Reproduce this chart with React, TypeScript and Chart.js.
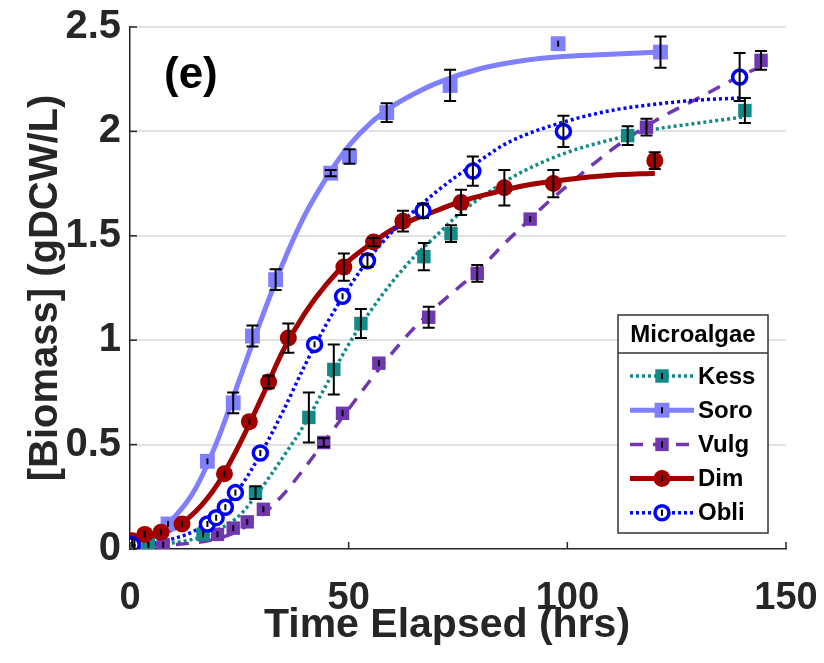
import React, { useEffect, useRef } from 'react';
import { Chart, registerables } from 'chart.js';

Chart.register(...registerables);

const FONT = '"Liberation Sans", Arial, Helvetica, sans-serif';

// ---- tick labels ----
const xTickLabels = ['0', '50', '100', '150'];
const yTickLabels = ['0', '0.5', '1', '1.5', '2', '2.5'];

// ---- measured points (time, biomass, error) ----
const kessT = [1, 4.2, 16.7, 28.7, 40.9, 46.6, 52.8, 67.2, 73.4, 113.8, 140.6];
const kessY = [0.01, 0.02, 0.07, 0.27, 0.63, 0.86, 1.08, 1.40, 1.51, 1.98, 2.10];
const kessErr = [0.005, 0.01, 0.01, 0.03, 0.12, 0.12, 0.07, 0.065, 0.04, 0.045, 0.06];

const soroT = [1, 8.7, 17.7, 23.6, 28.0, 33.3, 45.9, 50.2, 58.7, 73.2, 97.9, 121.3];
const soroY = [0.03, 0.12, 0.42, 0.70, 1.02, 1.29, 1.80, 1.88, 2.09, 2.22, 2.42, 2.38];
const soroErr = [0.005, 0.01, 0.01, 0.05, 0.05, 0.05, 0.015, 0.035, 0.045, 0.075, 0.01, 0.075];

const vulgT = [1, 7.6, 20.0, 23.6, 26.8, 30.5, 44.3, 48.6, 56.9, 68.3, 79.4, 91.5, 118.1, 144.3];
const vulgY = [0.01, 0.02, 0.07, 0.10, 0.13, 0.19, 0.51, 0.65, 0.89, 1.11, 1.32, 1.58, 2.02, 2.34];
const vulgErr = [0.005, 0.01, 0.01, 0.01, 0.01, 0.01, 0.02, 0.01, 0.01, 0.05, 0.04, 0.01, 0.04, 0.045];

const dimT = [0.5, 3.4, 7.1, 11.9, 21.6, 27.3, 31.7, 36.2, 48.9, 55.7, 62.4, 75.7, 85.6, 96.8, 120.0];
const dimY = [0.04, 0.07, 0.08, 0.12, 0.36, 0.61, 0.80, 1.01, 1.35, 1.47, 1.57, 1.66, 1.73, 1.75, 1.86];
const dimErr = [0.005, 0.005, 0.005, 0.01, 0.01, 0.01, 0.03, 0.07, 0.065, 0.02, 0.05, 0.06, 0.085, 0.065, 0.04];

const obliT = [0.5, 17.7, 19.7, 21.8, 24.1, 29.8, 42.2, 48.6, 54.3, 67.0, 78.4, 99.1, 139.4];
const obliY = [0.02, 0.12, 0.15, 0.20, 0.27, 0.46, 0.98, 1.21, 1.38, 1.62, 1.81, 2.00, 2.26];
const obliErr = [0.005, 0.01, 0.01, 0.01, 0.01, 0.01, 0.01, 0.01, 0.03, 0.035, 0.07, 0.075, 0.115];

// ---- fitted curves ----
const kessFitT = [0, 10, 15, 20, 25, 30, 35, 40, 45, 50, 55, 60, 65, 70, 75, 80, 85, 90, 100, 110, 120, 130, 140.6];
const kessFitY = [0.01, 0.03, 0.05, 0.09, 0.16, 0.29, 0.44, 0.60, 0.79, 0.98, 1.14, 1.28, 1.40, 1.50, 1.60, 1.68, 1.75, 1.81, 1.90, 1.96, 2.01, 2.04, 2.07];

const soroFitT = [0, 5, 10, 15, 20, 25, 30, 35, 40, 45, 50, 55, 60, 65, 70, 80, 90, 100, 110, 121.3];
const soroFitY = [0.03, 0.07, 0.15, 0.29, 0.52, 0.81, 1.10, 1.37, 1.60, 1.78, 1.93, 2.04, 2.12, 2.18, 2.23, 2.30, 2.34, 2.36, 2.37, 2.38];

const vulgFitT = [0, 10, 20, 25, 30, 35, 40, 45, 50, 55, 60, 65, 70, 75, 80, 85, 90, 95, 100, 110, 120, 130, 140, 144.3];
const vulgFitY = [0.01, 0.02, 0.05, 0.09, 0.16, 0.26, 0.39, 0.53, 0.67, 0.81, 0.94, 1.06, 1.16, 1.25, 1.34, 1.45, 1.55, 1.65, 1.74, 1.91, 2.05, 2.16, 2.27, 2.31];

const dimFitT = [0, 5, 10, 15, 20, 25, 30, 35, 40, 45, 50, 55, 60, 65, 70, 75, 80, 90, 100, 110, 120];
const dimFitY = [0.04, 0.06, 0.10, 0.18, 0.31, 0.50, 0.72, 0.95, 1.13, 1.27, 1.38, 1.46, 1.53, 1.58, 1.62, 1.66, 1.69, 1.74, 1.77, 1.79, 1.80];

const obliFitT = [0, 10, 15, 20, 25, 30, 35, 40, 45, 50, 55, 60, 65, 70, 75, 80, 85, 90, 100, 110, 120, 130, 139.4];
const obliFitY = [0.01, 0.05, 0.09, 0.17, 0.29, 0.46, 0.66, 0.88, 1.08, 1.25, 1.40, 1.52, 1.62, 1.71, 1.79, 1.86, 1.93, 1.98, 2.05, 2.10, 2.13, 2.15, 2.16];

const legendTitle = 'Microalgae';
const panelLabel = '(e)';
const xTitle = 'Time Elapsed (hrs)';
const yTitle = '[Biomass] (gDCW/L)';

type Style = {
  label: string;
  color: string;
  lineWidth: number;
  dash: number[];
  pointStyle: string;
  radius: number;
  fill: string;
  pointBorder: number;
};

const styles: Style[] = [
  { label: 'Kess', color: '#128a8a', lineWidth: 3.5, dash: [3, 3], pointStyle: 'rect', radius: 9.5, fill: '#128a8a', pointBorder: 0 },
  { label: 'Soro', color: '#8080ff', lineWidth: 5, dash: [], pointStyle: 'rect', radius: 10.5, fill: '#8080ff', pointBorder: 0 },
  { label: 'Vulg', color: '#7038b0', lineWidth: 3.5, dash: [13, 10], pointStyle: 'rect', radius: 9.5, fill: '#7038b0', pointBorder: 0 },
  { label: 'Dim', color: '#a00000', lineWidth: 5, dash: [], pointStyle: 'circle', radius: 8.5, fill: '#a00000', pointBorder: 0 },
  { label: 'Obli', color: '#0000ff', lineWidth: 3.5, dash: [3, 3], pointStyle: 'circle', radius: 7, fill: '#ffffff', pointBorder: 3.5 },
];

const pointSets = [
  { t: kessT, y: kessY, e: kessErr },
  { t: soroT, y: soroY, e: soroErr },
  { t: vulgT, y: vulgY, e: vulgErr },
  { t: dimT, y: dimY, e: dimErr },
  { t: obliT, y: obliY, e: obliErr },
];
const fitSets = [
  { t: kessFitT, y: kessFitY },
  { t: soroFitT, y: soroFitY },
  { t: vulgFitT, y: vulgFitY },
  { t: dimFitT, y: dimFitY },
  { t: obliFitT, y: obliFitY },
];

const toPts = (t: number[], y: number[]) => t.map((x, i) => ({ x, y: y[i] }));

const errorBarPlugin = {
  id: 'errorBars',
  afterDatasetsDraw(chart: any) {
    const ctx = chart.ctx;
    const xs = chart.scales.x;
    const ys = chart.scales.y;
    ctx.save();
    ctx.strokeStyle = '#000000';
    ctx.lineWidth = 2;
    chart.data.datasets.forEach((ds: any) => {
      if (!ds.errs) return;
      ds.data.forEach((p: any, i: number) => {
        const e = ds.errs[i];
        const px = xs.getPixelForValue(p.x);
        let top = ys.getPixelForValue(p.y + e);
        let bot = ys.getPixelForValue(p.y - e);
        const half = (bot - top) / 2;
        if (half < 3) {
          const mid = (top + bot) / 2;
          top = mid - 3;
          bot = mid + 3;
          ctx.beginPath();
          ctx.moveTo(px, top);
          ctx.lineTo(px, bot);
          ctx.stroke();
          return;
        }
        ctx.beginPath();
        ctx.moveTo(px, top);
        ctx.lineTo(px, bot);
        ctx.moveTo(px - 6, top);
        ctx.lineTo(px + 6, top);
        ctx.moveTo(px - 6, bot);
        ctx.lineTo(px + 6, bot);
        ctx.stroke();
      });
    });
    ctx.restore();
  },
};

const decorPlugin = {
  id: 'decor',
  afterDraw(chart: any) {
    const ctx = chart.ctx;
    const xs = chart.scales.x;
    const ys = chart.scales.y;
    const area = chart.chartArea;
    ctx.save();
    // inner ticks
    ctx.strokeStyle = '#262626';
    ctx.lineWidth = 1.5;
    ys.ticks.forEach((tk: any) => {
      const py = ys.getPixelForValue(tk.value);
      ctx.beginPath();
      ctx.moveTo(area.left, py);
      ctx.lineTo(area.left + 7, py);
      ctx.stroke();
    });
    xs.ticks.forEach((tk: any) => {
      const px = xs.getPixelForValue(tk.value);
      ctx.beginPath();
      ctx.moveTo(px, area.bottom);
      ctx.lineTo(px, area.bottom - 7);
      ctx.stroke();
    });
    // x axis title
    ctx.fillStyle = '#262626';
    ctx.font = `bold 41px ${FONT}`;
    ctx.textAlign = 'center';
    ctx.textBaseline = 'middle';
    ctx.fillText(xTitle, 447, 626);

    // panel label
    ctx.fillStyle = '#000000';
    ctx.font = `bold 44px ${FONT}`;
    ctx.textAlign = 'left';
    ctx.textBaseline = 'middle';
    ctx.fillText(panelLabel, 164, 76);

    // legend
    const L = 618, R = 768, T = 315, B = 533;
    ctx.fillStyle = '#ffffff';
    ctx.fillRect(L, T, R - L, B - T);
    ctx.strokeStyle = '#333333';
    ctx.lineWidth = 1.5;
    ctx.strokeRect(L, T, R - L, B - T);
    ctx.beginPath();
    ctx.moveTo(L, 353);
    ctx.lineTo(R, 353);
    ctx.stroke();
    ctx.fillStyle = '#000000';
    ctx.font = `bold 24px ${FONT}`;
    ctx.textAlign = 'center';
    ctx.fillText(legendTitle, (L + R) / 2, 335);
    styles.forEach((s, i) => {
      const cy = 376 + i * 34.2;
      ctx.save();
      ctx.strokeStyle = s.color;
      ctx.lineWidth = s.lineWidth;
      ctx.setLineDash(s.dash);
      ctx.beginPath();
      ctx.moveTo(630, cy);
      ctx.lineTo(694, cy);
      ctx.stroke();
      ctx.restore();
      ctx.save();
      ctx.fillStyle = s.fill;
      ctx.strokeStyle = s.color;
      ctx.lineWidth = s.pointBorder;
      if (s.pointStyle === 'rect') {
        const h = s.radius * Math.SQRT1_2;
        ctx.fillRect(662 - h, cy - h, 2 * h, 2 * h);
      } else {
        ctx.beginPath();
        ctx.arc(662, cy, s.radius, 0, Math.PI * 2);
        ctx.fill();
        if (s.pointBorder) ctx.stroke();
      }
      ctx.strokeStyle = '#000';
      ctx.lineWidth = 2;
      ctx.beginPath();
      ctx.moveTo(662, cy - 3);
      ctx.lineTo(662, cy + 3);
      ctx.stroke();
      ctx.restore();
      ctx.fillStyle = '#000000';
      ctx.font = `bold 24px ${FONT}`;
      ctx.textAlign = 'left';
      ctx.fillText(s.label, 698, cy + 1);
    });
    ctx.restore();
  },
};

export default function App() {
  const ref = useRef<HTMLCanvasElement>(null);
  useEffect(() => {
    if (!ref.current) return;
    const datasets: any[] = [];
    styles.forEach((s, i) => {
      datasets.push({
        label: s.label + ' fit',
        data: toPts(fitSets[i].t, fitSets[i].y),
        showLine: true,
        borderColor: s.color,
        borderWidth: s.lineWidth,
        borderDash: s.dash,
        borderCapStyle: 'butt',
        cubicInterpolationMode: 'monotone',
        pointRadius: 0,
        pointHoverRadius: 0,
        fill: false,
        order: 20 - i,
      });
      datasets.push({
        label: s.label,
        data: toPts(pointSets[i].t, pointSets[i].y),
        errs: pointSets[i].e,
        showLine: false,
        pointStyle: s.pointStyle,
        pointRadius: s.radius,
        pointHoverRadius: s.radius,
        backgroundColor: s.fill,
        borderColor: s.color,
        pointBorderWidth: s.pointBorder,
        borderWidth: s.pointBorder,
        order: 10 - i,
      });
    });

    const chart = new Chart(ref.current, {
      type: 'scatter',
      data: { datasets },
      plugins: [errorBarPlugin, decorPlugin],
      options: {
        animation: false,
        responsive: false,
        devicePixelRatio: 1,
        layout: { padding: { top: 27, right: 38, left: 0, bottom: 0 } },
        plugins: { legend: { display: false }, tooltip: { enabled: false } },
        scales: {
          x: {
            type: 'linear',
            min: 0,
            max: 150,
            afterFit: (s: any) => {
              s.height = 114;
              s.paddingLeft = 0;
              s.paddingRight = 0;
            },
            ticks: {
              stepSize: 50,
              padding: 27,
              color: '#262626',
              font: { family: FONT, size: 38, weight: 'bold' },
              callback: (v: any, i: number) => xTickLabels[i] ?? String(v),
              maxRotation: 0,
            },
            grid: { display: false, drawTicks: false },
            border: { display: true, color: '#262626', width: 1.5 },
            title: { display: false, text: xTitle },
          },
          y: {
            type: 'linear',
            min: 0,
            max: 2.5,
            afterFit: (s: any) => {
              s.width = 130;
              s.paddingTop = 0;
              s.paddingBottom = 0;
            },
            ticks: {
              stepSize: 0.5,
              padding: 9,
              color: '#262626',
              font: { family: FONT, size: 40, weight: 'bold' },
              callback: (v: any, i: number) => yTickLabels[i] ?? String(v),
            },
            grid: {
              display: true,
              drawTicks: false,
              color: (c: any) => (c.tick && c.tick.value === 0 ? 'rgba(0,0,0,0)' : '#e2e2e2'),
              lineWidth: 2,
            },
            border: { display: true, color: '#262626', width: 1.5 },
            title: {
              display: true,
              text: yTitle,
              color: '#262626',
              font: { family: FONT, size: 40, weight: 'bold' },
              padding: { top: 22, bottom: 0 },
            },
          },
        },
      } as any,
    });
    return () => chart.destroy();
  }, []);

  return (
    <div style={{ position: 'absolute', left: 0, top: 0, width: 824, height: 663, background: '#ffffff' }}>
      <canvas ref={ref} width={824} height={663} style={{ display: 'block', width: 824, height: 663 }} />
    </div>
  );
}
